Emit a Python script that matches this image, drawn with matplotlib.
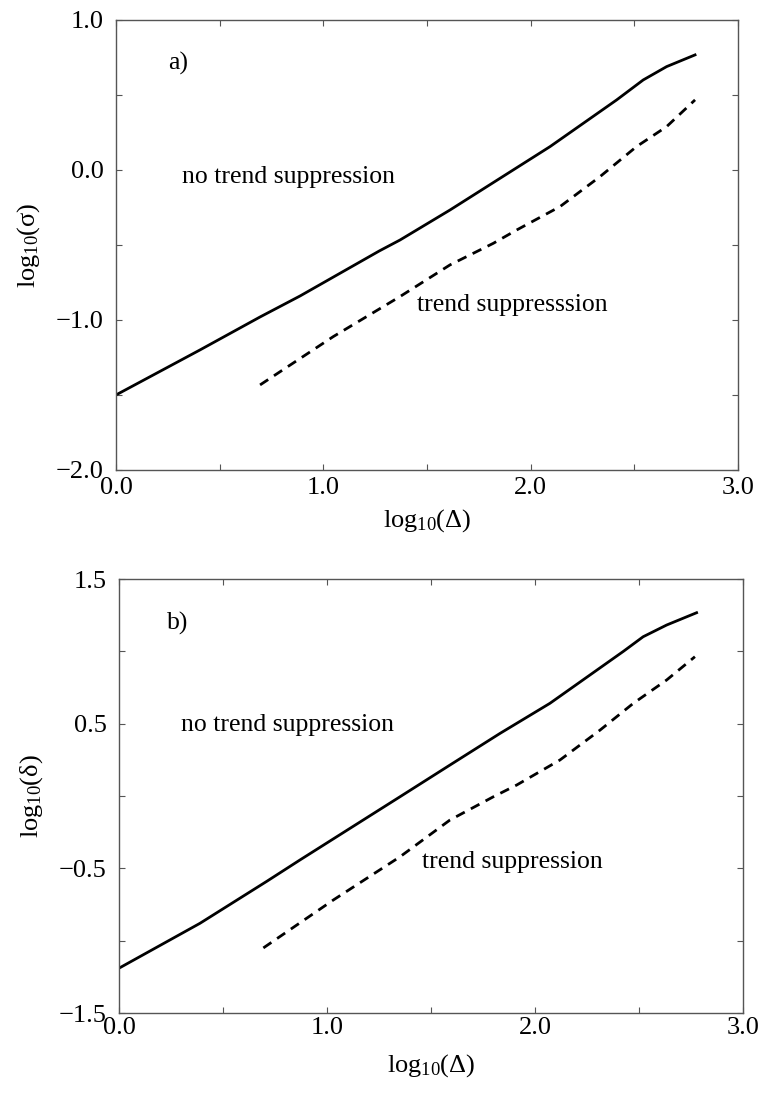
import matplotlib.pyplot as plt
from matplotlib.ticker import MultipleLocator, FuncFormatter

plt.rcParams["font.family"] = ["Liberation Serif", "DejaVu Serif"]
plt.rcParams["mathtext.fontset"] = "custom"
plt.rcParams["mathtext.rm"] = "Liberation Serif"
plt.rcParams["mathtext.it"] = "Liberation Serif:italic"

# panel a) log10(sigma) vs log10(Delta)
a_solid_x = [0.0, 0.405, 0.695, 0.888, 1.27, 1.37, 1.611, 1.852, 2.094, 2.415, 2.543, 2.656, 2.793]
a_solid_y = [-1.50, -1.20, -0.98, -0.84, -0.54, -0.467, -0.267, -0.056, 0.156, 0.467, 0.60, 0.689, 0.767]
a_dash_x = [0.695, 1.048, 1.37, 1.611, 1.82, 1.933, 2.142, 2.335, 2.511, 2.656, 2.793]
a_dash_y = [-1.433, -1.111, -0.844, -0.633, -0.489, -0.40, -0.244, -0.044, 0.156, 0.289, 0.467]

# panel b) log10(delta) vs log10(Delta)
b_solid_x = [0.0, 0.389, 0.71, 0.87, 1.351, 1.591, 1.832, 2.072, 2.425, 2.52, 2.633, 2.777]
b_solid_y = [-1.19, -0.88, -0.59, -0.442, -0.005, 0.214, 0.433, 0.641, 1.0, 1.101, 1.182, 1.267]
b_dash_x = [0.694, 1.03, 1.351, 1.591, 1.80, 1.912, 2.12, 2.313, 2.473, 2.633, 2.769]
b_dash_y = [-1.05, -0.719, -0.42, -0.166, -0.005, 0.076, 0.249, 0.456, 0.641, 0.802, 0.963]

fig = plt.figure(figsize=(7.6, 10.96), dpi=100)
ax1 = fig.add_axes([0.1526, 0.5712, 0.8184, 0.4106])
ax2 = fig.add_axes([0.1566, 0.0757, 0.8210, 0.3960])

fmt = FuncFormatter(lambda v, p: f"{v:.1f}".replace("-", "\u2212"))


def style(ax, ylim, ymajor, xpad):
    ax.set_xlim(0, 3)
    ax.set_ylim(*ylim)
    ax.xaxis.set_major_locator(MultipleLocator(1.0))
    ax.xaxis.set_minor_locator(MultipleLocator(0.5))
    ax.yaxis.set_major_locator(MultipleLocator(1.0))
    ax.yaxis.set_minor_locator(MultipleLocator(0.5))
    if ymajor is not None:
        ax.set_yticks(ymajor)
    ax.xaxis.set_major_formatter(fmt)
    ax.yaxis.set_major_formatter(fmt)
    ax.tick_params(which="both", direction="in", top=True, right=True,
                   length=4, width=0.8, color="#555555", labelsize=19)
    ax.tick_params(axis="y", which="both", pad=9)
    ax.tick_params(axis="x", which="both", pad=xpad)
    for s in ax.spines.values():
        s.set_linewidth(1.0)
        s.set_color("#555555")


style(ax1, (-2.0, 1.0), None, 5)
ax1.plot(a_solid_x, a_solid_y, color="black", lw=2.0)
ax1.plot(a_dash_x, a_dash_y, color="black", lw=2.0, ls=(0, (3.5, 2.5)))
ax1.text(0.25, 0.71, "a)", fontsize=18.5, va="center")
ax1.text(0.32, -0.05, "no trend suppression", fontsize=18.5, va="center")
ax1.text(1.45, -0.9, "trend suppresssion", fontsize=18.5, va="center")
ax1.set_xlabel("log$_{10}$(Δ)", fontsize=19, labelpad=6)
ax1.set_ylabel("log$_{10}$(σ)", fontsize=19, labelpad=10)

style(ax2, (-1.5, 1.5), [-1.5, -0.5, 0.5, 1.5], 3)
ax2.plot(b_solid_x, b_solid_y, color="black", lw=2.0)
ax2.plot(b_dash_x, b_dash_y, color="black", lw=2.0, ls=(0, (3.5, 2.5)))
ax2.text(0.23, 1.196, "b)", fontsize=18.5, va="center")
ax2.text(0.30, 0.49, "no trend suppression", fontsize=18.5, va="center")
ax2.text(1.455, -0.454, "trend suppression", fontsize=18.5, va="center")
ax2.set_xlabel("log$_{10}$(Δ)", fontsize=19, labelpad=9)
ax2.set_ylabel("log$_{10}$(δ)", fontsize=19, labelpad=10)

fig.savefig("out.png", dpi=100)
